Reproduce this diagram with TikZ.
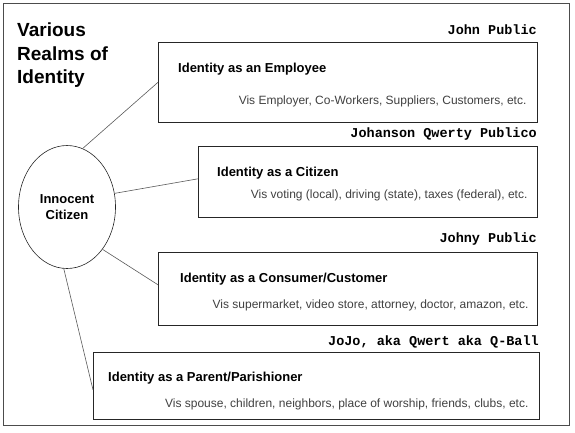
\documentclass[tikz,border=0pt]{standalone}
\usepackage{fontspec}
\setmainfont{Liberation Sans}
\setmonofont{Liberation Mono}
\usepackage{tikz}
\usetikzlibrary{shapes}
\usetikzlibrary{calc}
\tikzstyle{realm}=[draw=black!85, line width=0.6pt, anchor=north west, inner sep=0pt]
\tikzstyle{link}=[draw=black!65, line width=0.6pt]
\tikzstyle{alias}=[anchor=base east, inner sep=0pt, font=\fontsize{13.5}{16}\selectfont\ttfamily\bfseries]
\tikzstyle{role}=[anchor=base west, inner sep=0pt, font=\fontsize{13}{15}\selectfont\bfseries]
\tikzstyle{vis}=[anchor=base east, inner sep=0pt, text=black!75, font=\fontsize{12}{14}\selectfont]
\newcommand{\realmbox}[5]{
\node[realm, minimum width=#4, minimum height=#5] (#1) at (#2,#3) {};
}
\begin{document}
\begin{tikzpicture}[x=1pt,y=-1pt]
\useasboundingbox (0,0) rectangle (575,432);
\draw[draw=black!70, line width=0.8pt] (3,3) rectangle (569,425);
\node[anchor=north west, inner sep=0pt, align=left, font=\fontsize{19}{23.5}\selectfont\bfseries] (title) at (17,23) {Various\\Realms of\\Identity};
\node[ellipse, draw=black!85, line width=0.6pt, minimum width=97, minimum height=123, align=center, font=\fontsize{13}{15.5}\selectfont\bfseries] (citizen) at (67,207) {Innocent\\Citizen};
\realmbox{employee}{158}{42}{379}{80}
\realmbox{civic}{198}{146}{339}{71}
\realmbox{consumer}{158}{252}{379}{73}
\realmbox{parent}{93}{352}{446}{67}
\node[alias] (employee-a) at (537,34) {John Public};
\node[alias] (civic-a) at (537,137) {Johanson Qwerty Publico};
\node[alias] (consumer-a) at (537,242) {Johny Public};
\node[alias] (parent-a) at (539,345) {JoJo, aka Qwert aka Q-Ball};
\node[role] (employee-t) at ($(employee.north west)+(20,30)$) {Identity as an Employee};
\node[role] (civic-t) at ($(civic.north west)+(19,30)$) {Identity as a Citizen};
\node[role] (consumer-t) at ($(consumer.north west)+(22,30)$) {Identity as a Consumer/Customer};
\node[role] (parent-t) at ($(parent.north west)+(15,29)$) {Identity as a Parent/Parishioner};
\node[vis] (employee-v) at ($(employee.north east)+(-11,62)$) {Vis Employer, Co-Workers, Suppliers, Customers, etc.};
\node[vis] (civic-v) at ($(civic.north east)+(-10,52)$) {Vis voting (local), driving (state), taxes (federal), etc.};
\node[vis] (consumer-v) at ($(consumer.north east)+(-9,56)$) {Vis supermarket, video store, attorney, doctor, amazon, etc.};
\node[vis] (parent-v) at ($(parent.north east)+(-11,55)$) {Vis spouse, children, neighbors, place of worship, friends, clubs, etc.};
\draw[link] (citizen.75) -- (employee.west);
\draw[link] (citizen.16) -- ($(civic.west)+(0,-3)$);
\draw[link] (citizen.-50) -- ($(consumer.west)+(0,-4)$);
\draw[link] (citizen.-93) -- ($(parent.west)+(0,4)$);
\end{tikzpicture}
\end{document}
